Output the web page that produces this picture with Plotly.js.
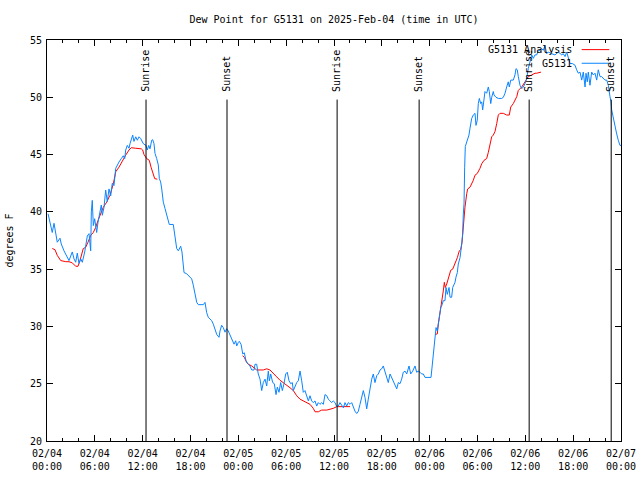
<!DOCTYPE html>
<html>
<head>
<meta charset="utf-8">
<script src="https://cdn.plot.ly/plotly-3.0.1.min.js"></script>
<style>html,body{margin:0;padding:0;background:#fff}#chart{width:640px;height:480px}</style>
</head>
<body>
<div id="chart"></div>
<script>
// Hours since 2025-02-04 00:00 UTC
const obsHours = [0.13,0.46,0.66,0.88,1.09,1.29,1.63,1.79,2.13,2.55,2.76,3.17,3.39,3.60,3.80,4.01,4.23,4.43,4.73,5.06,5.27,5.48,5.56,5.68,5.81,5.98,6.23,6.40,6.65,6.81,6.94,7.15,7.36,7.56,7.78,7.99,8.19,8.40,8.62,8.82,9.03,9.32,9.57,9.75,9.87,10.07,10.29,10.41,10.57,10.75,10.91,11.13,11.33,11.54,11.75,11.95,12.08,12.42,12.58,12.76,12.92,13.13,13.26,13.42,13.55,13.76,13.96,14.09,14.26,14.39,14.59,14.80,15.01,15.22,15.34,15.84,16.06,16.27,16.47,16.60,16.77,16.93,17.02,17.19,17.52,17.85,18.15,18.35,18.56,18.78,18.98,19.61,19.82,20.03,20.23,20.66,20.86,21.07,21.29,21.58,21.70,21.91,22.11,22.33,22.54,22.74,22.95,23.29,23.46,23.67,23.80,24.00,24.12,24.34,24.55,24.75,24.96,25.25,25.46,25.68,25.97,26.09,26.30,26.50,26.72,26.93,27.13,27.35,27.56,27.76,27.89,28.06,28.31,28.51,28.73,28.89,29.10,29.31,29.52,29.73,29.94,30.14,30.36,30.57,30.77,30.90,31.11,31.32,31.52,31.74,31.95,32.15,32.36,32.58,32.78,32.99,33.20,33.40,33.62,33.83,34.03,34.24,34.46,34.66,34.87,35.09,35.29,35.50,35.71,35.91,36.13,36.34,36.54,36.75,36.97,37.17,37.38,37.59,37.79,38.01,38.22,38.42,38.63,38.85,39.05,39.26,39.48,39.68,39.89,40.10,40.30,40.52,40.73,40.93,41.14,41.36,41.56,41.77,41.98,42.18,42.40,42.61,42.81,43.03,43.24,43.44,43.65,43.87,44.07,44.28,44.49,44.69,44.91,45.12,45.41,45.62,45.87,46.16,46.37,46.57,46.79,47.00,47.20,47.42,48.17,48.38,48.54,48.67,48.80,48.96,49.08,49.21,49.39,49.51,49.71,49.92,50.05,50.21,50.43,50.55,50.76,50.89,51.18,51.30,51.47,51.59,51.81,52.02,52.14,52.22,52.31,52.39,52.47,52.65,52.77,52.93,53.06,53.27,53.47,53.69,53.81,53.97,54.10,54.23,54.40,54.53,54.65,54.82,54.94,55.15,55.36,55.48,55.66,55.78,55.98,56.07,56.32,56.61,57.04,57.24,57.45,57.66,57.86,57.99,58.17,58.49,58.70,58.83,58.99,59.12,59.33,59.55,59.75,59.96,60.17,60.37,60.59,60.80,61.00,61.21,61.43,61.63,61.84,62.05,62.25,62.47,62.68,62.88,63.31,63.72,64.14,64.56,64.76,64.98,65.19,65.39,65.60,65.89,66.23,66.44,66.64,66.86,67.07,67.27,67.49,67.61,67.77,67.90,68.11,68.32,68.53,68.74,68.95,69.15,69.37,69.58,69.78,69.99,70.21,70.41,70.62,70.75,70.83,71.03,71.25,71.46,71.66,71.87,72.0];
const obsDew = [39.84,38.8,38.2,39.0,37.9,37.35,37.7,37.2,36.6,36.0,35.75,36.5,35.9,35.6,36.4,35.5,35.9,35.6,36.5,37.9,38.1,36.6,40.0,41.0,38.8,39.4,38.2,39.1,40.0,40.6,39.7,40.4,41.9,40.9,42.0,41.4,42.5,42.3,43.8,44.1,44.35,44.65,44.9,44.65,45.4,45.8,45.55,45.95,46.4,46.7,46.15,46.55,46.25,46.55,46.4,46.1,45.95,45.8,45.4,45.8,45.5,46.25,46.3,45.95,45.1,44.65,44.1,42.9,42.6,42.0,40.85,40.3,39.7,39.1,38.9,38.9,37.9,36.8,36.6,36.8,37.0,36.5,35.75,34.7,34.6,34.4,34.15,33.6,33.0,32.1,31.9,31.9,32.1,31.2,30.8,30.5,30.2,29.8,29.3,29.05,29.6,30.1,29.9,29.5,29.8,29.6,29.3,28.75,28.45,28.75,28.3,28.6,28.7,28.45,27.6,27.7,27.0,26.7,26.55,26.2,26.2,26.7,26.7,25.85,25.4,24.4,25.1,25.4,24.8,26.1,25.25,25.85,25.1,25.0,24.05,24.7,24.25,25.1,24.4,25.0,25.85,26.0,25.25,25.0,25.1,24.4,24.8,25.1,25.25,26.1,25.25,24.25,24.4,23.95,23.5,23.95,23.5,23.35,23.5,23.05,23.35,23.2,23.35,23.2,24.05,23.95,23.65,23.5,23.35,23.5,23.35,23.0,23.05,23.35,23.05,22.9,23.35,23.05,23.35,23.2,23.35,22.9,22.6,22.4,22.6,23.2,23.95,24.4,23.8,22.8,23.65,24.65,25.4,25.85,25.1,25.7,25.85,26.2,26.3,26.55,26.0,25.55,25.1,25.85,25.55,25.25,25.0,24.55,25.1,25.0,25.4,26.0,26.1,25.85,26.55,25.85,26.1,26.55,26.0,26.1,26.0,25.85,25.85,25.55,25.55,27.0,28.2,29.3,29.9,29.6,30.2,30.8,31.65,31.8,32.25,32.25,33.4,32.8,33.4,32.55,32.55,33.4,33.85,34.3,34.7,35.45,36.0,37.2,38.1,39.8,40.7,43.9,45.7,46.1,46.4,46.7,47.3,48.15,48.45,48.6,47.55,48.0,49.45,49.9,49.45,49.6,48.9,50.2,50.5,50.35,50.9,50.5,49.45,50.0,50.5,50.2,50.0,49.9,49.9,50.0,50.35,50.9,51.35,50.9,51.5,51.5,51.95,52.5,52.4,51.8,51.05,50.75,50.9,51.2,51.65,52.5,53.25,53.7,53.4,53.7,53.7,54.1,54.1,54.25,54.1,54.5,53.8,53.95,53.8,53.7,53.95,53.7,53.8,53.55,53.95,53.4,52.95,52.95,52.8,52.4,52.1,52.2,51.5,52.2,50.9,52.1,51.35,52.2,51.05,52.2,51.95,52.1,51.5,52.4,51.8,51.8,51.65,51.5,51.5,51.05,50.05,49.6,48.9,48.15,47.4,46.8,46.25,45.8,45.8];

const anaHours = [0.66,1.00,1.29,1.72,2.35,2.76,3.17,3.60,3.89,4.14,4.55,4.85,5.14,5.48,5.81,6.11,6.40,6.74,7.06,7.49,7.90,8.32,8.62,9.03,9.45,9.87,10.29,10.57,11.13,11.54,11.83,12.00,12.17,12.51,12.83,13.05,13.26,13.51,13.84,
  null,
  24.55,24.75,25.05,25.25,25.68,26.30,27.13,27.56,27.97,28.39,28.81,29.23,29.64,30.07,30.48,30.90,31.32,31.74,32.15,32.58,32.99,33.40,33.62,34.03,34.46,35.09,35.50,35.91,36.34,36.75,38.01,
  null,
  48.67,48.96,49.08,49.30,49.51,49.71,49.84,49.96,50.14,50.34,50.64,50.89,51.18,51.47,51.72,51.89,52.06,52.22,52.43,52.65,52.77,53.06,53.27,53.47,53.69,53.97,54.31,54.53,54.82,55.15,55.36,55.57,55.78,55.98,56.19,56.41,56.61,56.82,57.24,57.66,57.99,58.17,58.49,58.92,59.12,59.55,59.96,60.37,60.80,61.21,61.43,61.97];
const anaDew = [36.8,36.7,36.2,35.75,35.65,35.65,35.55,35.25,35.25,35.75,36.8,36.9,37.35,37.95,38.2,38.65,39.25,39.8,40.4,40.85,41.45,42.45,43.5,43.9,44.5,44.95,45.4,45.6,45.55,45.5,45.5,45.4,45.0,44.65,44.5,43.9,43.5,42.9,42.85,
  null,
  27.45,27.3,26.85,26.7,26.55,26.2,26.2,26.3,26.2,25.85,25.6,25.3,25.1,24.9,24.65,24.4,23.95,23.65,23.5,23.35,23.2,22.85,22.55,22.55,22.7,22.7,22.75,22.85,23.0,23.0,23.0,
  null,
  29.3,29.35,30.2,31.1,32.25,33.1,33.85,33.4,33.7,34.15,34.9,35.0,35.45,36.0,36.6,36.7,37.35,38.95,40.4,41.6,42.0,42.15,42.45,42.75,43.2,43.35,43.8,44.2,44.5,44.65,45.2,45.8,46.55,46.7,47.0,47.7,48.45,48.6,48.6,48.45,48.45,49.15,49.45,50.05,50.6,50.9,51.35,51.8,51.95,52.1,52.1,52.2];

const sunHours = [12.42, 22.58, 36.39, 46.68, 60.48, 70.77];
const sunLabels = ['Sunrise','Sunset','Sunrise','Sunset','Sunrise','Sunset'];

const tickHours = [0,6,12,18,24,30,36,42,48,54,60,66,72];
const tickLabels = ['02/04<br>00:00','02/04<br>06:00','02/04<br>12:00','02/04<br>18:00','02/05<br>00:00','02/05<br>06:00','02/05<br>12:00','02/05<br>18:00','02/06<br>00:00','02/06<br>06:00','02/06<br>12:00','02/06<br>18:00','02/07<br>00:00'];

const seriesNames = ['G5131 Analysis', 'G5131'];
const seriesColors = ['#ff0000', '#0a84ff'];

const FONT = 'DejaVu Sans Mono, monospace';

const traces = [
  {x: anaHours, y: anaDew, type: 'scatter', mode: 'lines', name: seriesNames[0],
   line: {color: seriesColors[0], width: 1}, connectgaps: false},
  {x: obsHours, y: obsDew, type: 'scatter', mode: 'lines', name: seriesNames[1],
   line: {color: seriesColors[1], width: 1}}
];

const shapes = sunHours.map(h => ({type: 'line', xref: 'x', yref: 'y', x0: h, x1: h, y0: 20, y1: 49.8,
  line: {color: '#000', width: 1}}));
const annotations = sunHours.map((h, i) => ({xref: 'x', yref: 'y', x: h, y: 50.3, text: sunLabels[i],
  textangle: -90, showarrow: false, xanchor: 'center', yanchor: 'bottom',
  font: {family: FONT, size: 10, color: '#000'}}));

// manual gnuplot-style legend (text right, sample line after)
const legY = [0.976, 0.942];
seriesNames.forEach((n, i) => {
  annotations.push({xref: 'paper', yref: 'paper', x: 0.918, y: legY[i], text: n, showarrow: false,
    xanchor: 'right', yanchor: 'middle', font: {family: FONT, size: 10, color: '#000'}});
  shapes.push({type: 'line', xref: 'paper', yref: 'paper', x0: 0.9315, x1: 0.9796, y0: legY[i], y1: legY[i],
    line: {color: seriesColors[i], width: 1}});
});

const layout = {
  width: 640, height: 480,
  margin: {l: 47, r: 19, t: 40, b: 39},
  paper_bgcolor: '#fff', plot_bgcolor: '#fff',
  showlegend: false,
  font: {family: FONT, size: 10, color: '#000'},
  title: {text: 'Dew Point for G5131 on 2025-Feb-04 (time in UTC)', font: {family: FONT, size: 10, color: '#000'},
    xref: 'paper', x: 0.5, xanchor: 'center', yref: 'container', y: 0.96, yanchor: 'middle'},
  xaxis: {range: [0, 72], tickmode: 'array', tickvals: tickHours, ticktext: tickLabels,
    ticks: 'inside', ticklen: 6, tickcolor: '#000', showgrid: false, zeroline: false,
    showline: true, linecolor: '#000', linewidth: 1, mirror: 'allticks', ticklabelstandoff: 3,
    minor: {tickmode: 'linear', tick0: 0, dtick: 2, ticks: 'inside', ticklen: 3, tickcolor: '#000', showgrid: false},
    tickfont: {family: FONT, size: 10, color: '#000'}},
  yaxis: {range: [20, 55], tickmode: 'linear', tick0: 20, dtick: 5,
    ticks: 'inside', ticklen: 6, tickcolor: '#000', showgrid: false, zeroline: false,
    showline: true, linecolor: '#000', linewidth: 1, mirror: 'allticks', ticklabelstandoff: 2,
    tickfont: {family: FONT, size: 10, color: '#000'},
    title: {text: 'degrees F', font: {family: FONT, size: 10, color: '#000'}, standoff: 14}},
  shapes: shapes,
  annotations: annotations
};

Plotly.newPlot('chart', traces, layout, {displayModeBar: false, staticPlot: true});
</script>
</body>
</html>
